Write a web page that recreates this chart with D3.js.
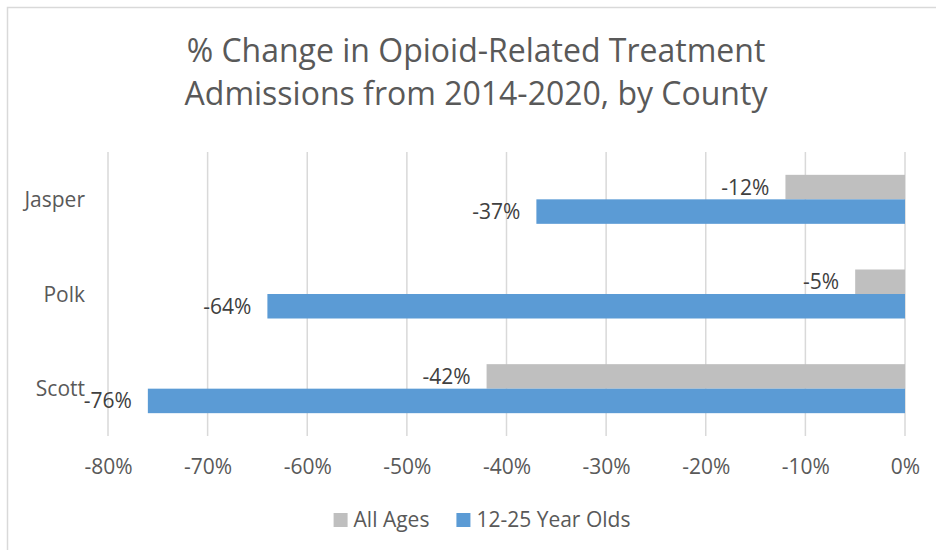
<!DOCTYPE html>
<html>
<head>
<meta charset="utf-8">
<script src="https://cdn.jsdelivr.net/npm/d3@7"></script>
<style>
  html, body { margin: 0; padding: 0; background: #fff; }
  svg { display: block; }
  svg text { font-family: "Open Sans", "Liberation Sans", sans-serif; }
</style>
</head>
<body>
<svg id="chart" width="936" height="550"></svg>
<script>
// Data
const counties = ["Jasper", "Polk", "Scott"];
const seriesNames = ["All Ages", "12-25 Year Olds"];
const allAges = [-0.12, -0.05, -0.42];
const youth = [-0.37, -0.64, -0.76];
const tickValues = [-0.8, -0.7, -0.6, -0.5, -0.4, -0.3, -0.2, -0.1, 0];
const titleLines = ["% Change in Opioid-Related Treatment", "Admissions from 2014-2020, by County"];
const seriesColors = ["#BFBFBF", "#5B9BD5"];

const rows = counties.map((c, i) => ({ county: c, values: [allAges[i], youth[i]] }));

const textColor = "#595959";
const gridColor = "#D9D9D9";
const fmt = d3.formatLocale({ decimal: ".", thousands: ",", grouping: [3], currency: ["$", ""], minus: "-" }).format(".0%");

const svg = d3.select("#chart");

// chart frame
svg.append("rect")
  .attr("x", 7.5).attr("y", 7.5)
  .attr("width", 960).attr("height", 580)
  .attr("fill", "none").attr("stroke", gridColor).attr("stroke-width", 1.5);

// title
svg.append("g").selectAll("text").data(titleLines).join("text")
  .attr("x", 476).attr("y", (d, i) => 62 + i * 43)
  .attr("text-anchor", "middle")
  .attr("fill", textColor)
  .style("font-size", "32px")
  .text(d => d);

// scales
const plot = { left: 108, right: 905, top: 152, bottom: 436 };
const x = d3.scaleLinear().domain([-0.8, 0]).range([plot.left, plot.right]);
const pad = 0.4824;
const y = d3.scaleBand().domain(counties).range([plot.top, plot.bottom])
  .paddingInner(pad).paddingOuter(pad / 2);
const ySub = d3.scaleBand().domain(seriesNames).range([0, y.bandwidth()]);

// vertical gridlines
svg.append("g").selectAll("line").data(tickValues).join("line")
  .attr("x1", d => x(d)).attr("x2", d => x(d))
  .attr("y1", plot.top).attr("y2", plot.bottom)
  .attr("stroke", gridColor).attr("stroke-width", 1.5);

// x axis tick labels
const xAxis = d3.axisBottom(x).tickValues(tickValues).tickFormat(fmt).tickSize(0).tickPadding(0);
const gx = svg.append("g").attr("transform", `translate(0,${plot.bottom})`).call(xAxis)
  .attr("font-family", null).attr("font-size", null);
gx.select(".domain").remove();
gx.selectAll("text")
  .attr("y", 38).attr("dy", null)
  .attr("fill", textColor)
  .style("font-size", "21px");

// category labels
const yAxis = d3.axisLeft(y).tickSize(0).tickPadding(0);
const gy = svg.append("g").attr("transform", `translate(85,0)`).call(yAxis)
  .attr("font-family", null).attr("font-size", null);
gy.select(".domain").remove();
gy.selectAll("text")
  .attr("x", 0).attr("dy", "0.36em")
  .attr("fill", textColor)
  .style("font-size", "21px");

// bars
const groups = svg.append("g").selectAll("g").data(rows).join("g")
  .attr("transform", d => `translate(0,${y(d.county)})`);

const cells = d => d.values.map((v, i) => ({ series: seriesNames[i], value: v, color: seriesColors[i] }));

groups.selectAll("rect").data(cells).join("rect")
  .attr("x", d => x(Math.min(0, d.value)))
  .attr("width", d => Math.abs(x(d.value) - x(0)))
  .attr("y", d => ySub(d.series))
  .attr("height", ySub.bandwidth())
  .attr("fill", d => d.color);

// value labels at the end of each bar
groups.selectAll("text").data(cells).join("text")
  .attr("x", d => x(d.value) - 16)
  .attr("y", d => ySub(d.series) + ySub.bandwidth() / 2)
  .attr("dy", "0.36em")
  .attr("text-anchor", "end")
  .attr("fill", "#404040")
  .style("font-size", "21px")
  .text(d => fmt(d.value));

// legend
const legend = svg.append("g");
const items = legend.selectAll("g").data(seriesNames).join("g");
items.append("rect").attr("width", 14).attr("height", 14).attr("y", -14)
  .attr("fill", (d, i) => seriesColors[i]);
items.append("text").attr("x", 20).attr("y", 0)
  .attr("fill", textColor).style("font-size", "21px").text(d => d);
let cursor = 0;
items.each(function () {
  const g = d3.select(this);
  g.attr("transform", `translate(${cursor},0)`);
  cursor += 20 + g.select("text").node().getComputedTextLength() + 27;
});
const legendWidth = cursor - 27;
legend.attr("transform", `translate(${482 - legendWidth / 2},527)`);
</script>
</body>
</html>
